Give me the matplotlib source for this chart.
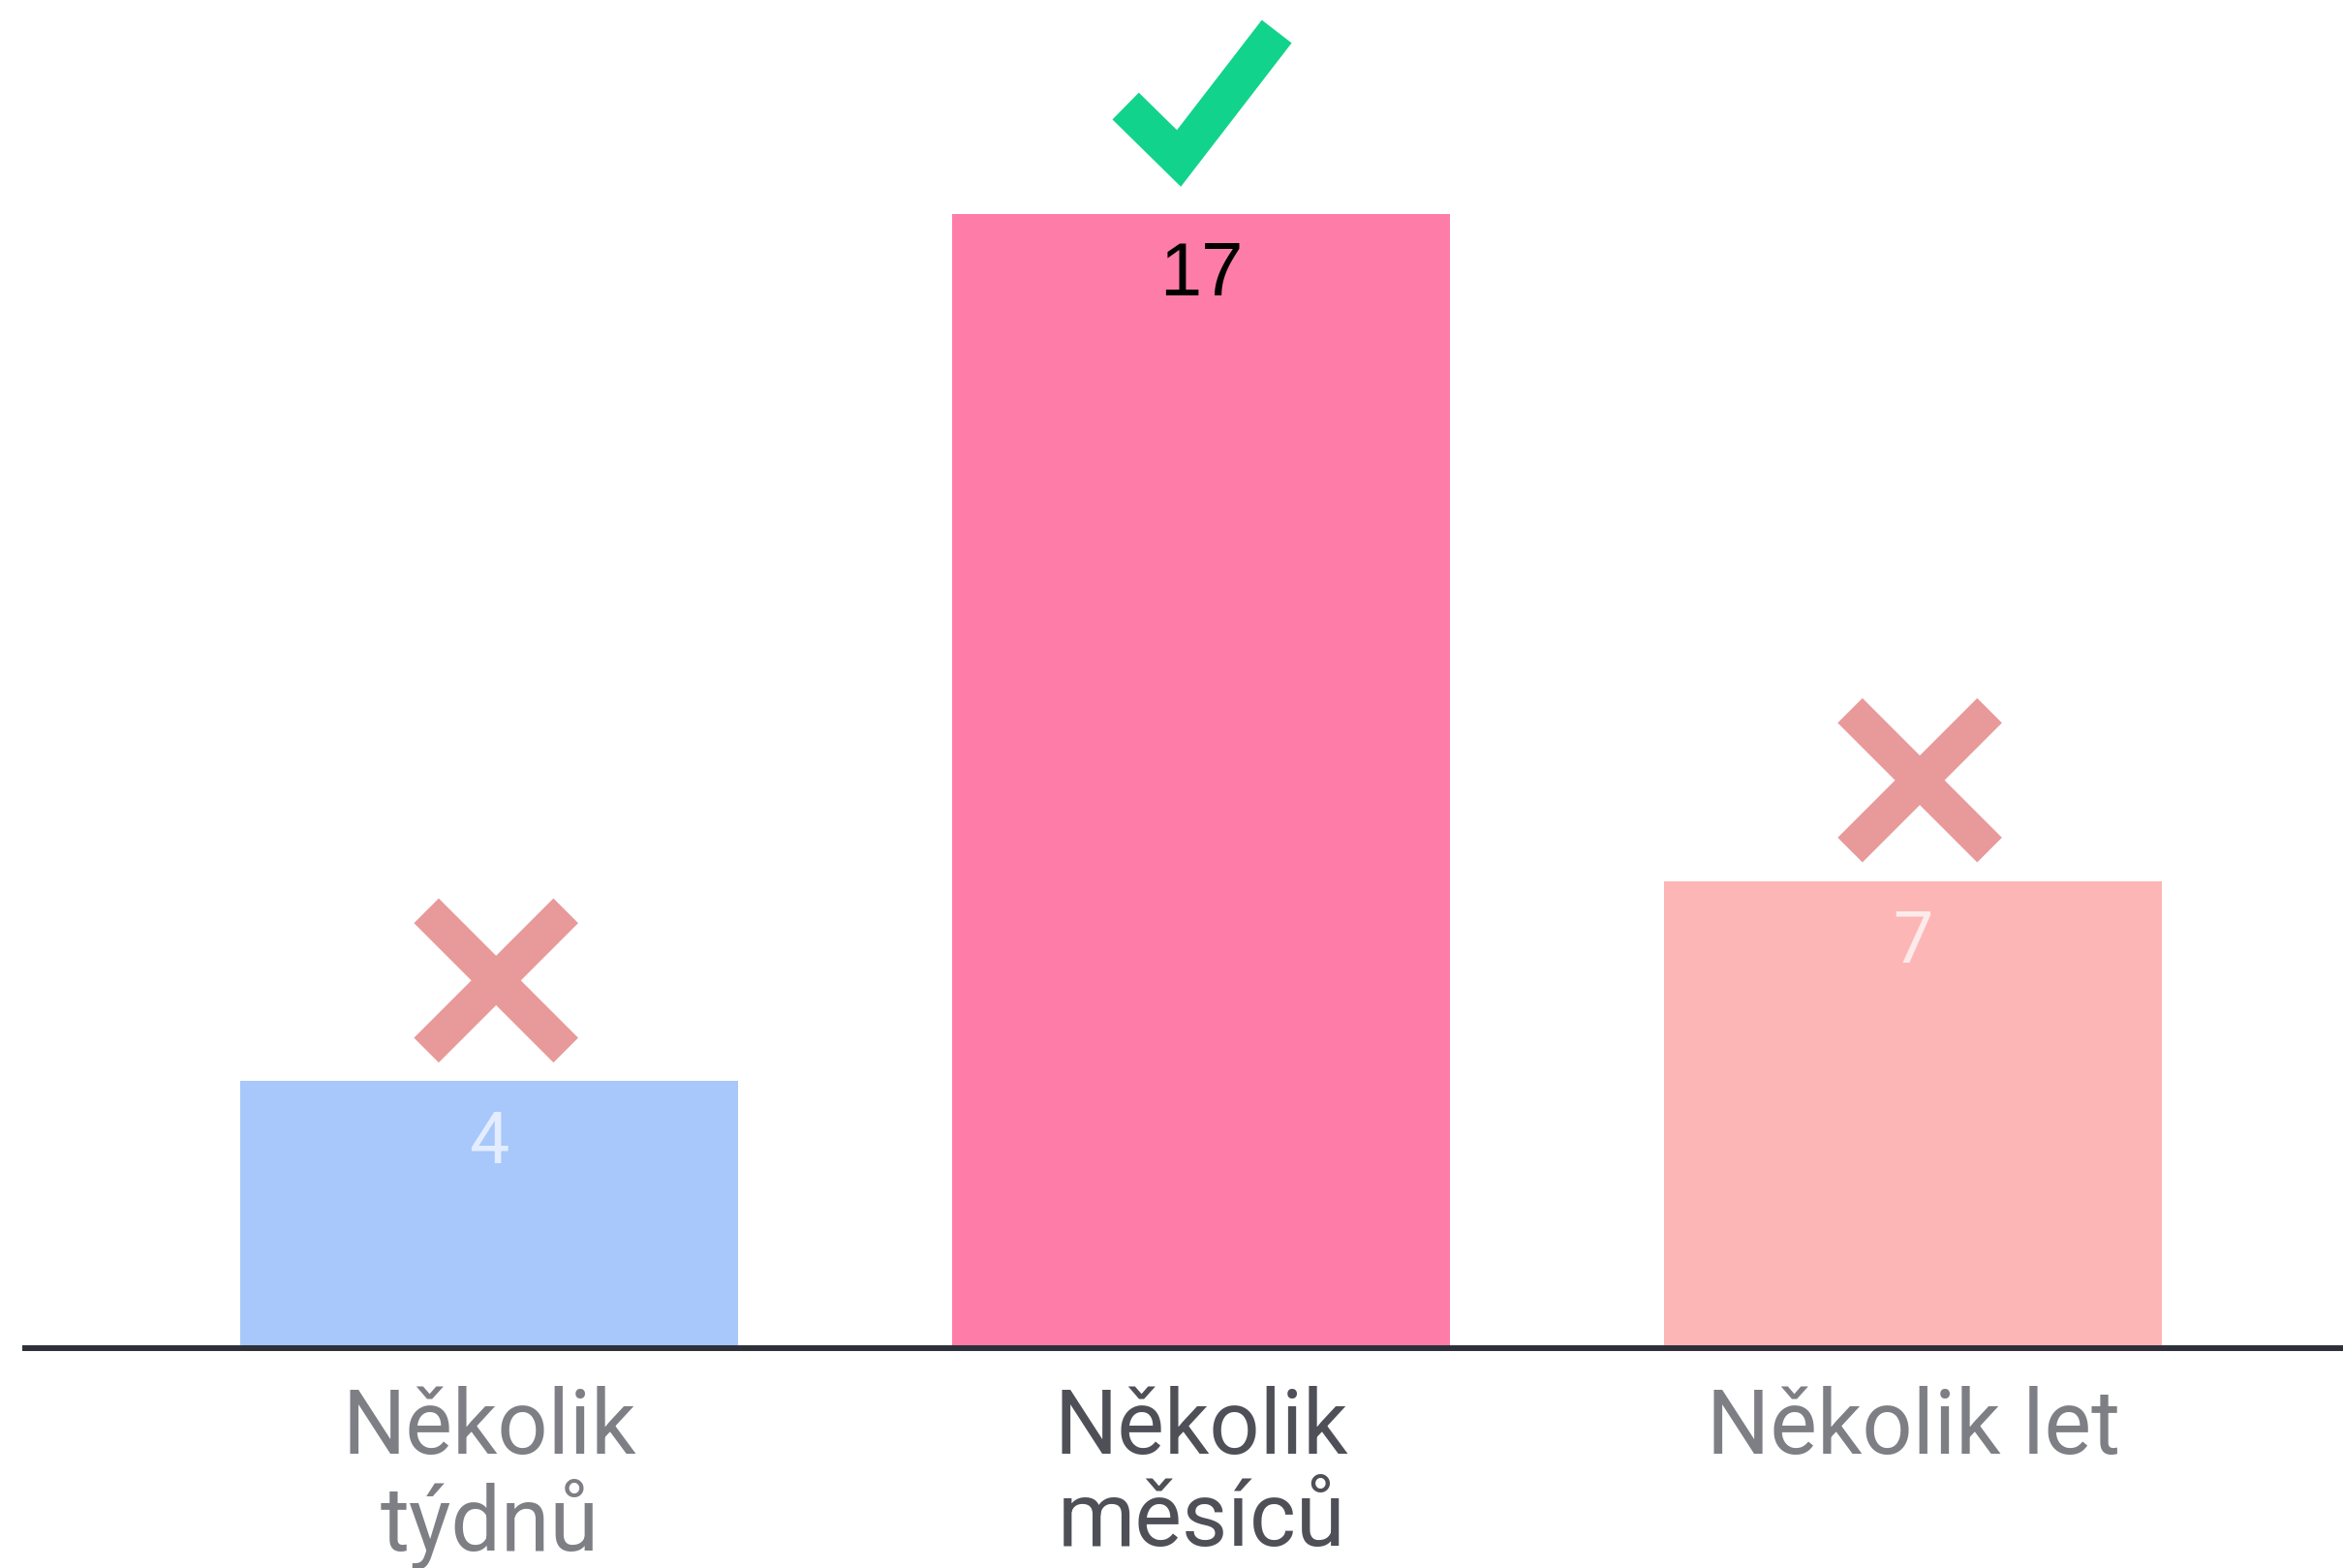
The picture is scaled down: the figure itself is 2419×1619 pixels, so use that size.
import matplotlib
matplotlib.use("Agg")
import matplotlib.pyplot as plt
from matplotlib import transforms

# data
categories = ["Několik\ntýdnů", "Několik\nměsíců", "Několik let"]
values = [4, 17, 7]
bar_colors = ["#a8c7fa", "#fe7da8", "#fdb6b6"]
label_colors = ["#7e7f85", "#4f5057", "#7e7f85"]
value_colors = ["#e3edff", "#000000", "#fdeaea"]
correct = [False, True, False]

W, H = 2419, 1619
fig = plt.figure(figsize=(W / 100, H / 100), dpi=100)
fig.patch.set_facecolor("white")
ax = fig.add_axes([26 / W, 227 / H, 1 - 26 / W, 1 - 227 / H])

x = list(range(len(values)))
ax.bar(x, values, width=0.7, color=bar_colors, zorder=2)
ax.set_xlim(-0.652, 2.604)
ax.set_ylim(0, 20.2)

for s in ["top", "left", "right"]:
    ax.spines[s].set_visible(False)
ax.spines["bottom"].set_color("#2d3039")
ax.spines["bottom"].set_linewidth(4.3)
ax.spines["bottom"].set_zorder(3)
ax.set_yticks([])
ax.set_xticks(x)
ax.set_xticklabels(categories, fontsize=66, family=["Roboto", "DejaVu Sans"],
                   linespacing=1.09)
for lbl, c in zip(ax.get_xticklabels(), label_colors):
    lbl.set_color(c)
ax.tick_params(axis="x", length=0, pad=28)

# value labels inside bars
for xi, v, c in zip(x, values, value_colors):
    dark = c == "#000000"
    ax.annotate(str(v), (xi, v), xytext=(0, -46), textcoords="offset points",
                ha="center", va="center", fontsize=56 if dark else 53, color=c,
                family=["Liberation Sans" if dark else "Roboto", "DejaVu Sans"],
                zorder=4)

# check / cross marks above the bars (offsets in inches from the bar top)
for xi, v, ok in zip(x, values, correct):
    trans = fig.dpi_scale_trans + transforms.ScaledTranslation(xi, v, ax.transData)
    if ok:
        ax.plot([-0.78, -0.23, 0.78], [1.11, 0.57, 1.88], color="#12d38b", lw=28,
                solid_joinstyle="miter", solid_capstyle="butt", transform=trans,
                clip_on=False, zorder=5)
    else:
        cx, cy, a = 0.07, 1.04, 0.72
        for dx in (a, -a):
            ax.plot([cx - dx, cx + dx], [cy - a, cy + a], color="#e8999a", lw=26,
                    solid_capstyle="butt", transform=trans, clip_on=False, zorder=5)

fig.savefig("out.png", dpi=100, facecolor="white")
